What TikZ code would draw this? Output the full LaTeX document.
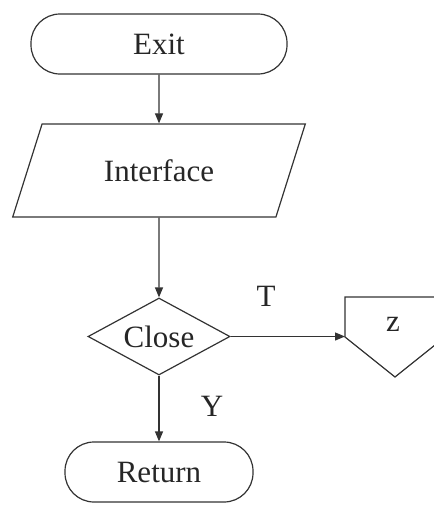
\documentclass[tikz,border=0pt]{standalone}
\usepackage{fontspec}
\setmainfont{Liberation Serif}
\usetikzlibrary{arrows.meta,positioning,shapes.geometric}

\tikzset{
  flowline/.style={draw=black!80, line width=1.2pt},
  terminal/.style={flowline, rectangle, rounded corners=29pt, minimum width=#1, minimum height=60pt, inner sep=0pt},
  iobox/.style={flowline, trapezium, trapezium left angle=58, trapezium right angle=122, trapezium stretches=true, minimum width=293pt, minimum height=93pt, inner sep=0pt},
  decision/.style={flowline, diamond, minimum width=142pt, minimum height=77pt, inner sep=0pt, label=center:#1},
  flowarrow/.style={flowline, -{Triangle[length=10pt,width=8pt]}}
}

\begin{document}
\begin{tikzpicture}[x=1pt, y=-1pt, font=\fontsize{31}{36}\selectfont, text=black!85]
      \useasboundingbox (0,0) rectangle (434,507);

      % Main column of the flow
      \node[terminal=256pt] (exit) at (159,44) {Exit};
      \node[iobox] (iface) at (159,170.5) {Interface};
      \node[decision=Close] (close) at (159,336.5) {};
      \node[terminal=188pt] (ret) at (159,472) {Return};

      % Off-page connector on the right
      \draw[flowline] (345,297) -- (445,297) -- (445,337) -- (395,377) -- (345,337) -- cycle;
      \node (offz) at (393,324) {z};
      \coordinate (offin) at (345,336.5);

      % Connectors
      \draw[flowarrow] (exit) -- (iface);
      \draw[flowarrow] (iface) -- (close);
      \draw[flowarrow] (close.east) -- (offin);
      \draw[flowarrow] (close) -- (ret);

      % Branch labels
      \node (lblT) at (266,296) {T};
      \node (lblY) at (212,406) {Y};
    \end{tikzpicture}
\end{document}
